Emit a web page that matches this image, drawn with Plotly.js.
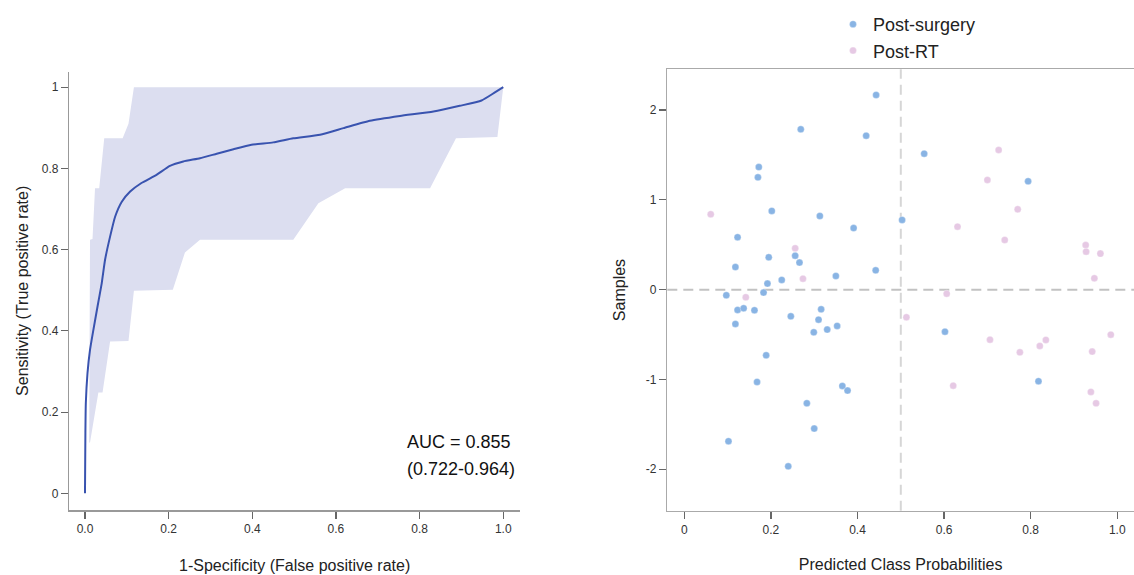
<!DOCTYPE html>
<html>
<head>
<meta charset="utf-8">
<script src="https://cdn.plot.ly/plotly-3.0.1.min.js"></script>
<style>html,body{margin:0;padding:0;background:#fff;}#chart{width:1134px;height:575px;}</style>
</head>
<body>
<div id="chart"></div>
<script>
// ROC curve (mean)
var roc_fpr = [0, 0.001, 0.002, 0.006, 0.012, 0.020, 0.030, 0.040, 0.048, 0.060, 0.072, 0.088, 0.108, 0.135, 0.171, 0.203, 0.235, 0.275, 0.315, 0.355, 0.398, 0.450, 0.498, 0.562, 0.618, 0.681, 0.753, 0.833, 0.896, 0.948, 0.980, 1.0];
var roc_tpr = [0, 0.150, 0.222, 0.296, 0.353, 0.402, 0.460, 0.517, 0.575, 0.632, 0.681, 0.718, 0.743, 0.764, 0.784, 0.806, 0.817, 0.825, 0.836, 0.847, 0.858, 0.864, 0.874, 0.883, 0.899, 0.917, 0.929, 0.940, 0.954, 0.967, 0.987, 1.0];
// Confidence band bounds
var ci_upper_fpr = [0.010, 0.012, 0.018, 0.024, 0.034, 0.046, 0.090, 0.104, 0.117, 1.0];
var ci_upper_tpr = [0.125, 0.624, 0.626, 0.751, 0.751, 0.874, 0.874, 0.910, 1.0, 1.0];
var ci_lower_fpr = [0.010, 0.012, 0.032, 0.042, 0.060, 0.104, 0.117, 0.210, 0.239, 0.275, 0.498, 0.558, 0.622, 0.825, 0.887, 0.986, 1.0];
var ci_lower_tpr = [0.125, 0.125, 0.248, 0.248, 0.374, 0.375, 0.499, 0.501, 0.593, 0.624, 0.624, 0.714, 0.751, 0.751, 0.874, 0.877, 1.0];
var auc_text = "AUC = 0.855";
var auc_ci_text = "(0.722-0.964)";

// Scatter: predicted class probabilities
var surgery_prob = [0.443, 0.269, 0.420, 0.554, 0.172, 0.170, 0.794, 0.202, 0.313, 0.503, 0.391, 0.123, 0.195, 0.256, 0.266, 0.118, 0.442, 0.350, 0.225, 0.192, 0.097, 0.183, 0.123, 0.137, 0.162, 0.118, 0.246, 0.316, 0.310, 0.353, 0.330, 0.299, 0.602, 0.189, 0.818, 0.168, 0.365, 0.377, 0.283, 0.300, 0.102, 0.240];
var surgery_sample = [2.167, 1.785, 1.714, 1.514, 1.365, 1.250, 1.206, 0.876, 0.820, 0.776, 0.686, 0.583, 0.360, 0.378, 0.301, 0.252, 0.215, 0.152, 0.108, 0.067, -0.063, -0.033, -0.226, -0.208, -0.230, -0.382, -0.297, -0.219, -0.334, -0.404, -0.445, -0.475, -0.468, -0.731, -1.020, -1.028, -1.072, -1.124, -1.265, -1.547, -1.688, -1.967];
var rt_prob = [0.061, 0.256, 0.274, 0.142, 0.513, 0.606, 0.726, 0.700, 0.770, 0.631, 0.740, 0.927, 0.928, 0.961, 0.947, 0.706, 0.775, 0.821, 0.835, 0.985, 0.942, 0.621, 0.939, 0.951];
var rt_sample = [0.839, 0.460, 0.122, -0.085, -0.308, -0.045, 1.555, 1.221, 0.894, 0.701, 0.553, 0.497, 0.423, 0.401, 0.126, -0.557, -0.698, -0.627, -0.560, -0.501, -0.690, -1.069, -1.139, -1.265];

var left_x_ticks = [0, 0.2, 0.4, 0.6, 0.8, 1.0];
var left_x_labels = ["0.0", "0.2", "0.4", "0.6", "0.8", "1.0"];
var left_y_ticks = [0, 0.2, 0.4, 0.6, 0.8, 1.0];
var left_y_labels = ["0", "0.2", "0.4", "0.6", "0.8", "1"];
var right_x_ticks = [0, 0.2, 0.4, 0.6, 0.8, 1.0];
var right_x_labels = ["0", "0.2", "0.4", "0.6", "0.8", "1.0"];
var right_y_ticks = [-2, -1, 0, 1, 2];
var right_y_labels = ["-2", "-1", "0", "1", "2"];

var band_x = ci_upper_fpr.concat(ci_lower_fpr.slice().reverse());
var band_y = ci_upper_tpr.concat(ci_lower_tpr.slice().reverse());

var FONT = "Liberation Sans, Arial, Helvetica, sans-serif";

var traces = [
  {x: band_x, y: band_y, type: "scatter", mode: "lines", fill: "toself",
   fillcolor: "rgb(220,222,240)", line: {width: 0, color: "rgba(0,0,0,0)"},
   xaxis: "x", yaxis: "y", showlegend: false, hoverinfo: "skip"},
  {x: roc_fpr, y: roc_tpr, type: "scatter", mode: "lines",
   line: {color: "rgb(57,83,175)", width: 2, shape: "spline", smoothing: 0.5}, xaxis: "x", yaxis: "y", showlegend: false},
  {x: surgery_prob, y: surgery_sample, type: "scatter", mode: "markers", name: "Post-surgery",
   marker: {color: "rgb(137,180,228)", size: 7, line: {color: "rgba(255,255,255,0.6)", width: 0.5}},
   xaxis: "x2", yaxis: "y2"},
  {x: rt_prob, y: rt_sample, type: "scatter", mode: "markers", name: "Post-RT",
   marker: {color: "rgb(230,201,228)", size: 7, line: {color: "rgba(255,255,255,0.6)", width: 0.5}},
   xaxis: "x2", yaxis: "y2"}
];

var axisCommon = {
  showgrid: false, zeroline: false, showline: true, linewidth: 1.5,
  ticks: "outside", ticklen: 7, tickwidth: 1.2, tickcolor: "#666",
  tickfont: {family: FONT, size: 12, color: "#333"}, tickmode: "array"
};

function ax(extra) { return Object.assign({}, axisCommon, extra); }

var layout = {
  width: 1134, height: 575,
  margin: {l: 0, r: 0, t: 0, b: 0},
  paper_bgcolor: "#fff", plot_bgcolor: "rgba(0,0,0,0)",
  font: {family: FONT, color: "#222"},
  xaxis: ax({domain: [69.3/1134, 520/1134], range: [-0.0375, 1.04], anchor: "y",
    linecolor: "#999", tickvals: left_x_ticks, ticktext: left_x_labels,
    title: {text: "1-Specificity (False positive rate)", font: {family: FONT, size: 16, color: "#222"}, standoff: 25}}),
  yaxis: ax({domain: [65/575, 503.3/575], range: [-0.041, 1.038], anchor: "x",
    linecolor: "#999", tickvals: left_y_ticks, ticktext: left_y_labels,
    title: {text: "Sensitivity (True positive rate)", font: {family: FONT, size: 16, color: "#222"}, standoff: 9}}),
  xaxis2: ax({domain: [667.3/1134, 1], range: [-0.0393, 1.0386], anchor: "y2", mirror: true,
    linecolor: "#aaa", tickvals: right_x_ticks, ticktext: right_x_labels,
    title: {text: "Predicted Class Probabilities", font: {family: FONT, size: 16, color: "#222"}, standoff: 23}}),
  yaxis2: ax({domain: [64.3/575, 505.7/575], range: [-2.461, 2.453], anchor: "x2", mirror: true,
    linecolor: "#aaa", tickvals: right_y_ticks, ticktext: right_y_labels,
    title: {text: "Samples", font: {family: FONT, size: 16, color: "#222"}, standoff: 16}}),
  legend: {x: 833/1134, xanchor: "left", y: 1 - 6/575, yanchor: "top",
    font: {family: FONT, size: 18, color: "#222"}, bgcolor: "rgba(0,0,0,0)", tracegroupgap: 0},
  shapes: [
    {type: "line", xref: "x2", yref: "y2 domain", x0: 0.5, x1: 0.5, y0: 0, y1: 1,
     line: {color: "#d6d6d6", width: 2, dash: "10px,6px"}, layer: "below"},
    {type: "line", xref: "x2 domain", yref: "y2", x0: 0, x1: 1, y0: 0, y1: 0,
     line: {color: "#c2c2c2", width: 2, dash: "10px,6px"}, layer: "below"}
  ],
  annotations: [
    {x: 0.764, y: 0.127, xref: "x", yref: "y", text: auc_text, showarrow: false,
     xanchor: "left", yanchor: "middle", font: {family: FONT, size: 18, color: "#111"}},
    {x: 0.764, y: 0.061, xref: "x", yref: "y", text: auc_ci_text, showarrow: false,
     xanchor: "left", yanchor: "middle", font: {family: FONT, size: 18, color: "#111"}}
  ]
};

Plotly.newPlot("chart", traces, layout, {displayModeBar: false, staticPlot: true});
</script>
</body>
</html>
